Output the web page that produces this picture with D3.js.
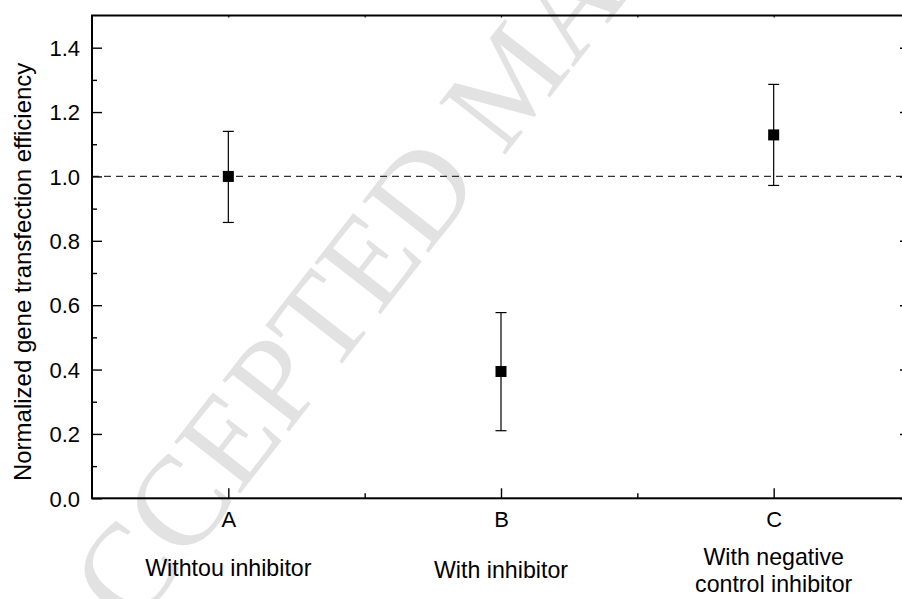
<!DOCTYPE html>
<html>
<head>
<meta charset="utf-8">
<script src="https://cdn.jsdelivr.net/npm/d3@7"></script>
<style>
  html, body { margin: 0; padding: 0; background: #fff; }
  svg { display: block; }
</style>
</head>
<body>
<svg id="chart" width="902" height="599"></svg>
<script>
// ---- data ----
const categories = ["A", "B", "C"];
const groupLabels = [["Withtou inhibitor"], ["With inhibitor"], ["With negative", "control inhibitor"]];
const values = [1.0, 0.394, 1.129];
const errUpper = [1.14, 0.577, 1.286];
const errLower = [0.857, 0.21, 0.972];
const yMajorTicks = [0.0, 0.2, 0.4, 0.6, 0.8, 1.0, 1.2, 1.4];
const yMinorTicks = [0.1, 0.3, 0.5, 0.7, 0.9, 1.1, 1.3];
const xMinorTicks = [1.5, 2.5];
const referenceLevel = 1.0;
const yTitle = "Normalized gene transfection efficiency";
const watermark = "ACCEPTED MANUSCRIPT";

(function () {
// ---- layout ----
const svg = d3.select("#chart");
const pL = 92, pR = 910, pT = 15.5, pB = 498.3;
const x = d3.scaleLinear().domain([0.5, 3.5]).range([pL, pR]);
const y = d3.scaleLinear().domain([0, 1.5]).range([pB, pT]);
const font = "'Liberation Sans', Arial, Helvetica, sans-serif";

// watermark (behind)
svg.append("text")
  .attr("transform", "translate(76,704) rotate(-52)")
  .attr("font-family", "'Liberation Serif', 'Times New Roman', serif")
  .attr("font-size", 128)
  .attr("fill", "#e2e2e2")
  .text(watermark);

// reference dashed line
svg.append("line")
  .attr("x1", pL).attr("x2", pR)
  .attr("y1", y(referenceLevel)).attr("y2", y(referenceLevel))
  .attr("stroke", "#333").attr("stroke-width", 1.3)
  .attr("stroke-dasharray", "7,5");

function styleAxis(g, w) {
  g.select(".domain").remove();
  g.selectAll(".tick line").attr("stroke", "#000").attr("stroke-width", w);
  g.selectAll(".tick text").attr("fill", "#000");
}

const gLeft = svg.append("g").attr("transform", `translate(${pL},0)`)
  .call(d3.axisLeft(y).tickValues(yMajorTicks).tickSize(-10).tickSizeOuter(0)
    .tickPadding(12).tickFormat(d3.format(".1f")));
gLeft.attr("font-family", font).attr("font-size", 22);
styleAxis(gLeft, 1.4);
gLeft.selectAll(".tick text").attr("dy", "0.35em");

const gLeftMinor = svg.append("g").attr("transform", `translate(${pL},0)`)
  .call(d3.axisLeft(y).tickValues(yMinorTicks).tickSize(-5).tickSizeOuter(0).tickFormat(""));
styleAxis(gLeftMinor, 1.4);

const gRight = svg.append("g").attr("transform", `translate(${pR},0)`)
  .call(d3.axisRight(y).tickValues(yMajorTicks).tickSize(-10).tickSizeOuter(0).tickFormat(""));
styleAxis(gRight, 1.4);
const gRightMinor = svg.append("g").attr("transform", `translate(${pR},0)`)
  .call(d3.axisRight(y).tickValues(yMinorTicks).tickSize(-5).tickSizeOuter(0).tickFormat(""));
styleAxis(gRightMinor, 1.4);

const gBottom = svg.append("g").attr("transform", `translate(0,${pB})`)
  .call(d3.axisBottom(x).tickValues([1, 2, 3]).tickSize(-10).tickSizeOuter(0)
    .tickPadding(13).tickFormat(d => categories[d - 1]));
gBottom.attr("font-family", font).attr("font-size", 22);
styleAxis(gBottom, 1.4);

const gBottomMinor = svg.append("g").attr("transform", `translate(0,${pB})`)
  .call(d3.axisBottom(x).tickValues(xMinorTicks).tickSize(-5).tickSizeOuter(0).tickFormat(""));
styleAxis(gBottomMinor, 1.4);

const gTop = svg.append("g").attr("transform", `translate(0,${pT})`)
  .call(d3.axisTop(x).tickValues([1, 1.5, 2, 2.5, 3]).tickSize(-2).tickSizeOuter(0).tickFormat(""));
styleAxis(gTop, 1.2);

// frame
svg.append("rect")
  .attr("x", pL).attr("y", pT)
  .attr("width", pR - pL).attr("height", pB - pT)
  .attr("fill", "none").attr("stroke", "#000").attr("stroke-width", 2);

// y title
svg.append("text")
  .attr("transform", `translate(31,${(pT + pB) / 2 + 15}) rotate(-90)`)
  .attr("text-anchor", "middle")
  .attr("font-family", font).attr("font-size", 24)
  .attr("fill", "#000")
  .text(yTitle);

// group labels
const labelBase = [[576], [578], [565, 592]];
const gl = svg.append("g").attr("font-family", font).attr("font-size", 23.2).attr("fill", "#000")
  .attr("text-anchor", "middle");
groupLabels.forEach((lines, i) => {
  lines.forEach((t, j) => {
    gl.append("text").attr("x", x(i + 1)).attr("y", labelBase[i][j]).text(t);
  });
});

// error bars
const idx = categories.map((c, i) => i);
const eb = svg.append("g").attr("stroke", "#000").attr("stroke-width", 1.2);
eb.selectAll("line.v").data(idx).join("line").attr("class", "v")
  .attr("x1", i => x(i + 1)).attr("x2", i => x(i + 1))
  .attr("y1", i => y(errUpper[i])).attr("y2", i => y(errLower[i]));
eb.selectAll("line.t").data(idx).join("line").attr("class", "t")
  .attr("x1", i => x(i + 1) - 5.5).attr("x2", i => x(i + 1) + 5.5)
  .attr("y1", i => y(errUpper[i])).attr("y2", i => y(errUpper[i]));
eb.selectAll("line.b").data(idx).join("line").attr("class", "b")
  .attr("x1", i => x(i + 1) - 5.5).attr("x2", i => x(i + 1) + 5.5)
  .attr("y1", i => y(errLower[i])).attr("y2", i => y(errLower[i]));

// markers
svg.append("g").selectAll("rect").data(idx).join("rect")
  .attr("x", i => x(i + 1) - 5.5).attr("y", i => y(values[i]) - 5.5)
  .attr("width", 11).attr("height", 11)
  .attr("fill", "#000");
})();
</script>
</body>
</html>
